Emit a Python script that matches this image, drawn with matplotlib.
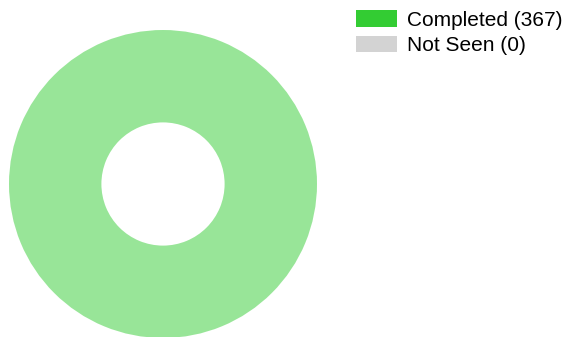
import matplotlib
matplotlib.use('agg')
import matplotlib.pyplot as plt
from matplotlib.patches import Patch

labels = ['Completed', 'Not Seen']
values = [367, 0]
colors = ['#33CC33', '#D3D3D3']

plt.rcParams['font.family'] = ['Liberation Sans', 'DejaVu Sans']

W, H = 566, 337
fig = plt.figure(figsize=(W / 100, H / 100), dpi=100)

# donut: centre (163, 184) px, outer radius 154 px
cx, cy, r = 163, 184, 154
ax = fig.add_axes([(cx - r) / W, (H - cy - r) / H, 2 * r / W, 2 * r / H])
ax.pie(values, colors=colors, startangle=90, counterclock=False, radius=1,
       wedgeprops=dict(width=0.6, alpha=0.5, linewidth=0))
ax.set_xlim(-1, 1)
ax.set_ylim(-1, 1)
ax.set_aspect('equal')
ax.axis('off')

# legenda com cores cheias
handles = [Patch(facecolor=c, edgecolor='none') for c in colors]
legend_labels = [f'{l} ({v})' for l, v in zip(labels, values)]
fig.legend(handles, legend_labels, loc='upper left',
           bbox_to_anchor=(356 / W, 1 - 10 / H), frameon=False,
           fontsize=15, handlelength=1.97, handleheight=0.85,
           handletextpad=0.5, labelspacing=0.3, borderpad=0, borderaxespad=0)

fig.savefig('out.png', dpi=100)
plt.close('all')
